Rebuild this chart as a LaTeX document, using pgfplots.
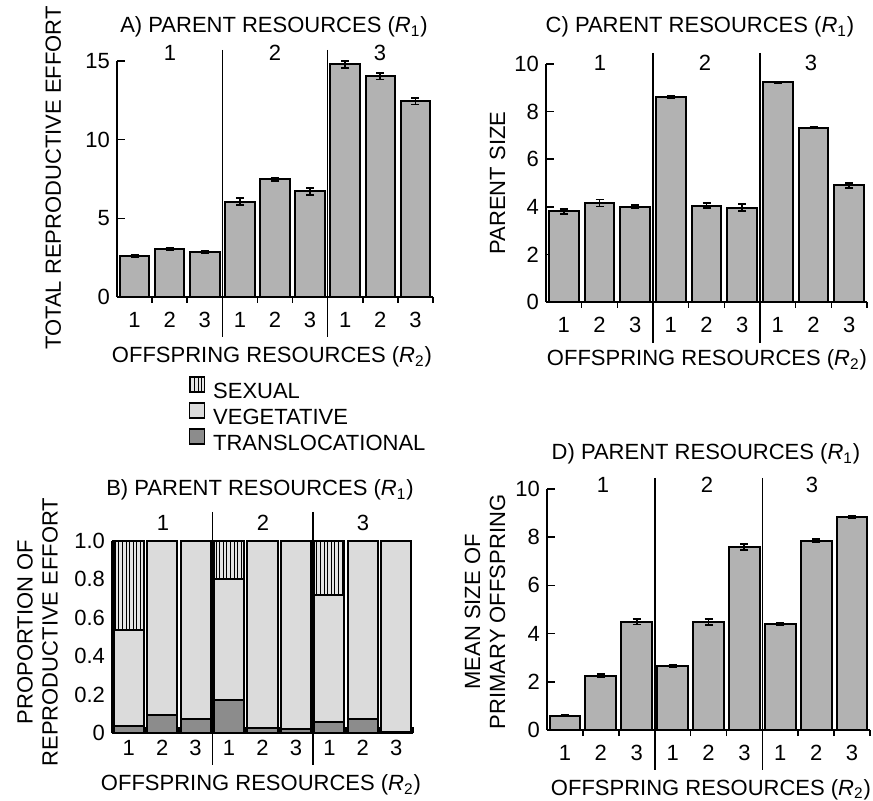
\documentclass[border=0pt]{standalone}
\usepackage{fontspec}
\setmainfont{Liberation Sans}
\usepackage{pgfplots}
\pgfplotsset{compat=1.18}
\usetikzlibrary{patterns.meta}
\definecolor{barfill}{gray}{0.70}
\definecolor{vegfill}{gray}{0.86}
\definecolor{trafill}{gray}{0.55}
\definecolor{sexfill}{gray}{0.90}
\newcommand{\Rone}{(\textit{R}\textsubscript{1})}
\newcommand{\Rtwo}{(\textit{R}\textsubscript{2})}
\newcommand{\lbl}{\fontsize{11}{12.5}\selectfont}
\pgfplotsset{
  panel/.style={
    scale only axis, clip=false, anchor=south west,
    axis x line*=bottom, axis y line*=left,
    axis line style={line width=1pt, black},
    xmin=0.5, xmax=9.5, ymin=0,
    xtick={1,...,9}, xticklabels={1,2,3,1,2,3,1,2,3},
    minor xtick={1.5,2.5,4.5,5.5,7.5,8.5,9.5},
    tick align=inside,
    tick style={black, line width=0.8pt},
    major tick length=4pt, minor tick length=3pt,
    major x tick style={draw=none},
    ticklabel style={font=\lbl},
    /pgf/number format/assume math mode=true,
  },
  sbar/.style={draw=black, line width=1pt, fill=barfill,
    error bars/y dir=both, error bars/y explicit,
    error bars/error bar style={line width=0.9pt, black},
    error bars/error mark options={rotate=90, black, line width=0.9pt, mark size=2pt}},
  legbox/.style={legend image code/.code={\draw[##1, line width=0.8pt] (0pt,0pt) rectangle (7.5pt,7.5pt);}},
}
\tikzset{lab/.style={font=\lbl, anchor=base, inner sep=0pt},
         div/.style={line width=0.8pt, black}}
\begin{document}
\begin{tikzpicture}
\begin{scope}[x=0.5pt,y=-0.5pt]
\useasboundingbox (0,0) rectangle (873,801);
\end{scope}
% ---------------- Panel A
\begin{axis}[panel, at={(58.5pt,-148.5pt)}, width=158pt, height=118pt, ymax=15, ytick={0,5,10,15}, ybar, bar width=0.84]
\addplot[sbar] coordinates {(1,2.62) +- (0,0.08) (2,3.06) +- (0,0.06) (3,2.85) +- (0,0.06) (4,6.06) +- (0,0.22) (5,7.48) +- (0,0.12) (6,6.72) +- (0,0.22) (7,14.78) +- (0,0.22) (8,14.02) +- (0,0.2) (9,12.45) +- (0,0.22)};
\end{axis}
% ---------------- Panel C
\begin{axis}[panel, at={(273pt,-151pt)}, width=160.5pt, height=119pt, ymax=10, ytick={0,2,...,10}, ybar, bar width=0.84]
\addplot[sbar] coordinates {(1,3.81) +- (0,0.1) (2,4.16) +- (0,0.15) (3,4.01) +- (0,0.08) (4,8.6) +- (0,0.05) (5,4.05) +- (0,0.1) (6,3.97) +- (0,0.15) (7,9.23) +- (0,0.02) (8,7.32) +- (0,0.03) (9,4.9) +- (0,0.1)};
\end{axis}
% ---------------- Panel B
\begin{axis}[panel, at={(56pt,-366.5pt)}, width=150.5pt, height=96pt, ymax=1, ytick={0,0.2,0.4,0.6,0.8,1}, yticklabels={0,0.2,0.4,0.6,0.8,1.0}, ybar stacked, bar width=0.9,
  reverse legend, legend cell align=left,
  legend style={draw=none, fill=none, at={(0.253,1.861)}, anchor=north west, font=\lbl, row sep=0.5pt, column sep=4pt, inner sep=0pt, nodes={inner sep=0pt}}]
\addplot[draw=black, line width=1pt, fill=trafill, legbox] coordinates {(1,0.035) (2,0.092) (3,0.075) (4,0.174) (5,0.026) (6,0.019) (7,0.057) (8,0.075) (9,0.006)};
\addlegendentry{TRANSLOCATIONAL}
\addplot[draw=black, line width=1pt, fill=vegfill, legbox] coordinates {(1,0.5) (2,0.908) (3,0.925) (4,0.626) (5,0.974) (6,0.981) (7,0.661) (8,0.925) (9,0.994)};
\addlegendentry{VEGETATIVE}
\addplot[draw=black, line width=1pt, fill=sexfill, postaction={pattern={Lines[angle=90,distance=1.8pt,line width=0.4pt]}}, legbox] coordinates {(1,0.465) (2,0) (3,0) (4,0.2) (5,0) (6,0) (7,0.282) (8,0) (9,0)};
\addlegendentry{SEXUAL}
\end{axis}
% ---------------- Panel D
\begin{axis}[panel, at={(273.5pt,-365pt)}, width=161.5pt, height=120.5pt, ymax=10, ytick={0,2,...,10}, ybar, bar width=0.86]
\addplot[sbar] coordinates {(1,0.59) +- (0,0.02) (2,2.26) +- (0,0.05) (3,4.5) +- (0,0.12) (4,2.67) +- (0,0.05) (5,4.49) +- (0,0.12) (6,7.59) +- (0,0.12) (7,4.4) +- (0,0.03) (8,7.86) +- (0,0.05) (9,8.85) +- (0,0.05)};
\end{axis}
\begin{scope}[x=0.5pt,y=-0.5pt]
\node[lab] at (274,33) {A) PARENT RESOURCES \Rone};
\node[lab] at (170,61) {1};
\node[lab] at (275,61) {2};
\node[lab] at (380,61) {3};
\draw[div] (222.3,50) -- (222.3,337);
\draw[div] (327.6,50) -- (327.6,337);
\node[lab] at (272,363) {OFFSPRING RESOURCES \Rtwo};
\node[lab, rotate=90] at (61,178) {TOTAL REPRODUCTIVE EFFORT};
\node[lab] at (700,33) {C) PARENT RESOURCES \Rone};
\node[lab] at (600,71) {1};
\node[lab] at (705,71) {2};
\node[lab] at (811,71) {3};
\draw[div] (653,53) -- (653,343);
\draw[div] (760,53) -- (760,343);
\node[lab] at (707,366) {OFFSPRING RESOURCES \Rtwo};
\node[lab, rotate=90] at (505,183) {PARENT SIZE};
\node[lab] at (260,496) {B) PARENT RESOURCES \Rone};
\node[lab] at (163,531) {1};
\node[lab] at (263,531) {2};
\node[lab] at (363,531) {3};
\draw[div] (212.3,512) -- (212.3,765);
\draw[div] (312.7,512) -- (312.7,765);
\node[lab] at (261,791) {OFFSPRING RESOURCES \Rtwo};
\node[font=\lbl, rotate=90, align=center, inner sep=0pt] at (37.5,632) {PROPORTION OF\\REPRODUCTIVE EFFORT};
\node[lab] at (706,460) {D) PARENT RESOURCES \Rone};
\node[lab] at (603,493) {1};
\node[lab] at (707,493) {2};
\node[lab] at (812,493) {3};
\draw[div] (654.7,478) -- (654.7,770);
\draw[div] (762.3,478) -- (762.3,770);
\node[lab] at (711,795) {OFFSPRING RESOURCES \Rtwo};
\node[font=\lbl, rotate=90, align=center, inner sep=0pt] at (485,612) {MEAN SIZE OF\\PRIMARY OFFSPRING};
\end{scope}
\end{tikzpicture}
\end{document}
